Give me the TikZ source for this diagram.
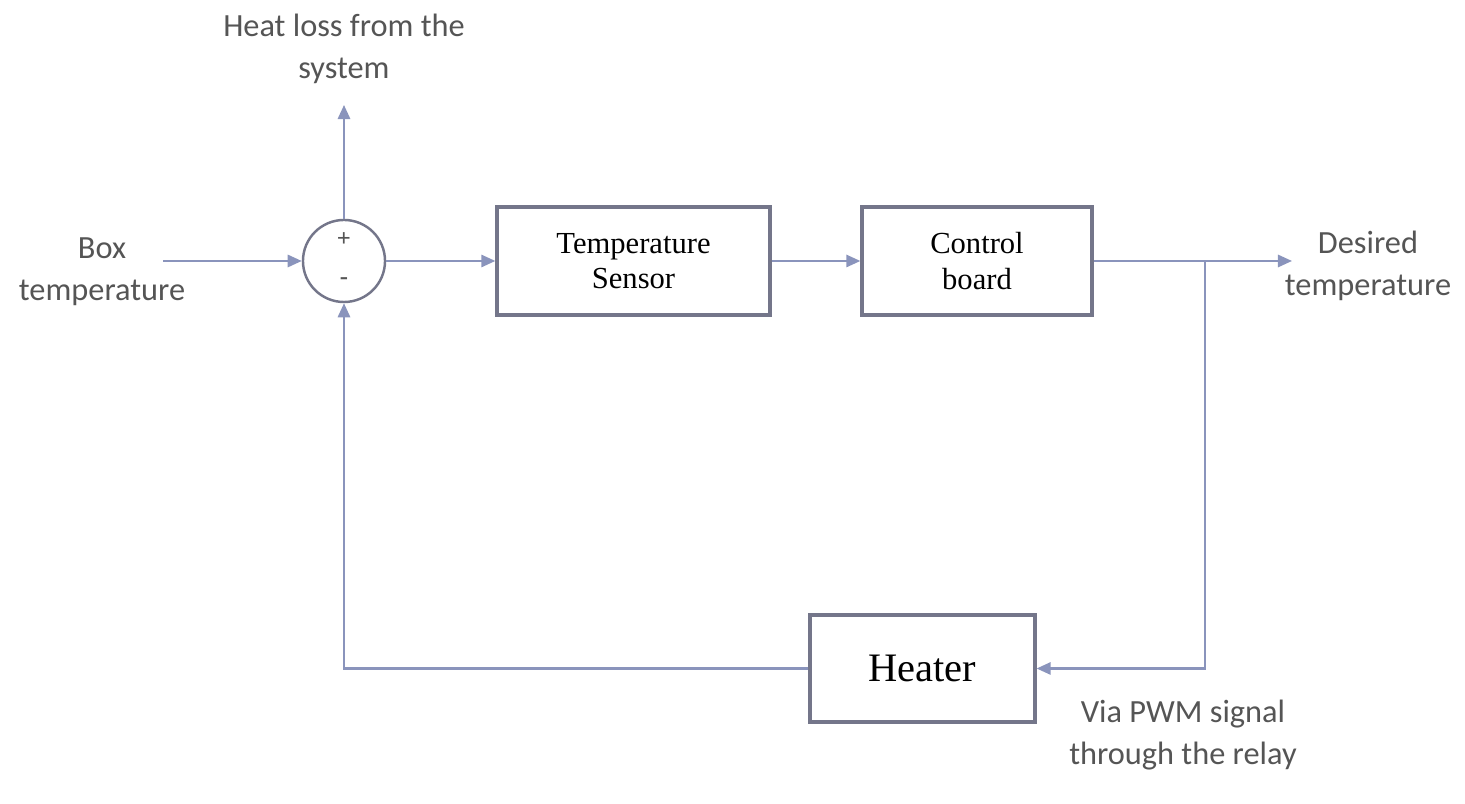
\documentclass[tikz,border=0pt]{standalone}
\usepackage{fontspec}
\setmainfont{Liberation Serif}
\newfontfamily\notefont{Carlito}
\usetikzlibrary{arrows.meta}
\definecolor{wirecol}{HTML}{8A94BC}
\definecolor{framecol}{HTML}{74768A}
\definecolor{notecol}{HTML}{555555}

\begin{document}
\begin{tikzpicture}[x=0.01cm, y=-0.01cm,
    block/.style={draw=framecol, line width=0.9pt, minimum width=2.73cm, minimum height=1.08cm,
        align=center, font=\fontsize{8.7}{10}\selectfont},
    sumnode/.style={circle, draw=framecol, line width=0.7pt, minimum size=0.82cm, inner sep=0pt},
    wire/.style={draw=wirecol, line width=0.6pt, -{Triangle[length=4pt,width=3.5pt]}},
    note/.style={text=notecol, align=center, font=\notefont\fontsize{9.2}{12}\selectfont},
    sign/.style={text=notecol, inner sep=0pt, font=\bfseries\fontsize{7}{7}\selectfont}]
    \useasboundingbox (0,0) rectangle (1465,804);
    % summing junction and blocks
    \node[sumnode] (sum) at (344,261) {};
    \node[sign] (plus) at (344,240) {+};
    \node[sign] (minus) at (344,281) {-};
    \node[block] (sensor) at (633.5,261) {Temperature\\Sensor};
    \node[block, minimum width=2.30cm] (board) at (977,261) {Control\\board};
    \node[block, minimum width=2.25cm, minimum height=1.07cm, font=\fontsize{11.5}{13}\selectfont] (heater) at (922.5,668.5) {Heater};
    % labels
    \node[note] (boxtemp) at (102,272) {Box\\temperature};
    \node[note] (heatloss) at (344,49) {Heat loss from the\\system};
    \node[note] (desired) at (1368,266) {Desired\\temperature};
    \node[note] (pwm) at (1183,735) {Via PWM signal\\through the relay};
    % free ends and corners
    \coordinate (inlet) at (163,261);
    \coordinate (lossend) at (344,105);
    \coordinate (outlet) at (1292,261);
    \coordinate (branch) at (1205,261);
    % connectors
    \draw[wire] (inlet) -- (sum);
    \draw[wire] (sum.north) -- (lossend);
    \draw[wire] (sum) -- (sensor);
    \draw[wire] (sensor) -- (board);
    \draw[wire] (board) -- (outlet);
    \draw[wire] (branch) |- (heater.east);
    \draw[wire] (heater.west) -| (sum.south);
\end{tikzpicture}
\end{document}
